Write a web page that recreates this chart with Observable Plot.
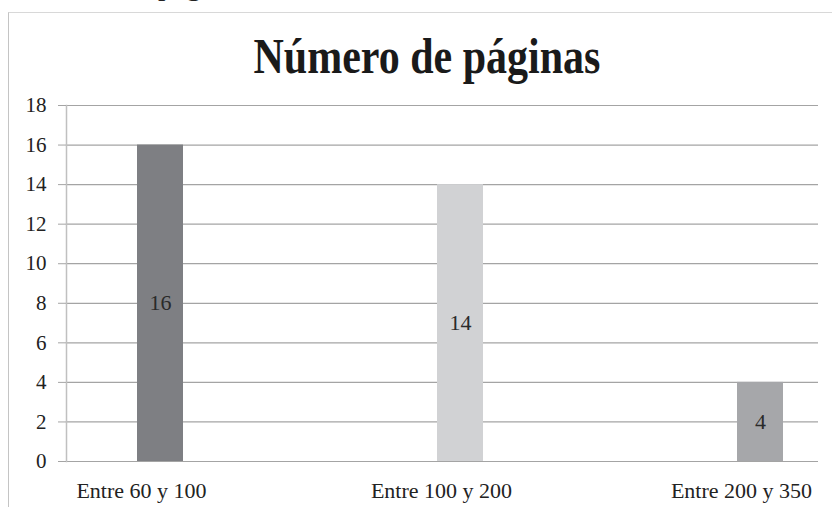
<!DOCTYPE html>
<html>
<head>
<meta charset="utf-8">
<script src="https://cdn.jsdelivr.net/npm/d3@7"></script>
<script src="https://cdn.jsdelivr.net/npm/@observablehq/plot@0.6"></script>
<style>
  html, body { margin: 0; padding: 0; background: #fff; }
  #wrap { position: relative; width: 832px; height: 507px; overflow: hidden; background: #fff; }
  #cut { position: absolute; left: 158px; top: -30px; font: 30px "Liberation Serif", "DejaVu Serif", serif; color: #222; line-height: 30px; }
  #box { position: absolute; left: 8px; top: 12px; width: 900px; height: 600px; border-left: 1.5px solid #c4c4c4; border-top: 1.5px solid #d8d8d8; }
  #title { position: absolute; left: 0; width: 854px; top: 27px; text-align: center; font-family: "Liberation Serif", "DejaVu Serif", serif; font-weight: bold; font-size: 42px; color: #1a1a1a; transform: scaleY(1.2); transform-origin: 50% 0; }
  #chart { position: absolute; left: 0; top: 0; }
  #chart svg text { font-family: "Liberation Serif", "DejaVu Serif", serif; }
</style>
</head>
<body>
<div id="wrap">
  <div id="cut">páginas</div>
  <div id="box"></div>
  <div id="title">Número de páginas</div>
  <div id="chart"></div>
</div>
<script>
const categories = ["Entre 60 y 100", "Entre 100 y 200", "Entre 200 y 350"];
const values = [16, 14, 4];
const barColors = ["#7e7f83", "#d1d2d4", "#a6a7aa"];
const yTicks = [0, 2, 4, 6, 8, 10, 12, 14, 16, 18];

const data = categories.map((c, i) => ({category: c, value: values[i], color: barColors[i]}));
const serif = "'Liberation Serif', 'DejaVu Serif', serif";

const chart = Plot.plot({
  width: 832,
  height: 507,
  marginLeft: 66,
  marginRight: 14,
  marginTop: 105,
  marginBottom: 46,
  style: {fontFamily: serif, background: "transparent", color: "#222"},
  x: {domain: categories, paddingInner: 0.847, paddingOuter: 0.1747, align: 0.667, label: null},
  y: {domain: [0, 18], label: null},
  marks: [
    Plot.ruleY(yTicks, {stroke: "#a4a4a4", strokeWidth: 1.2}),
    Plot.frame({anchor: "left", stroke: "#c0c0c0", strokeWidth: 1.5}),
    Plot.axisY({ticks: yTicks, tickSize: 8, tickPadding: 12, fontSize: 21, fontFamily: serif, stroke: "#a4a4a4", fill: "#222", label: null}),
    Plot.axisX({tickSize: 0, tickPadding: 21, dx: -19, fontSize: 22, fontFamily: serif, fill: "#222", label: null}),
    Plot.barY(data, {x: "category", y: "value", fill: "color"}),
    Plot.text(data, {x: "category", y: d => d.value / 2, text: d => String(d.value), fontSize: 22, fontFamily: serif, fill: "#2a2a2a"})
  ]
});
document.getElementById("chart").appendChild(chart);
</script>
</body>
</html>
